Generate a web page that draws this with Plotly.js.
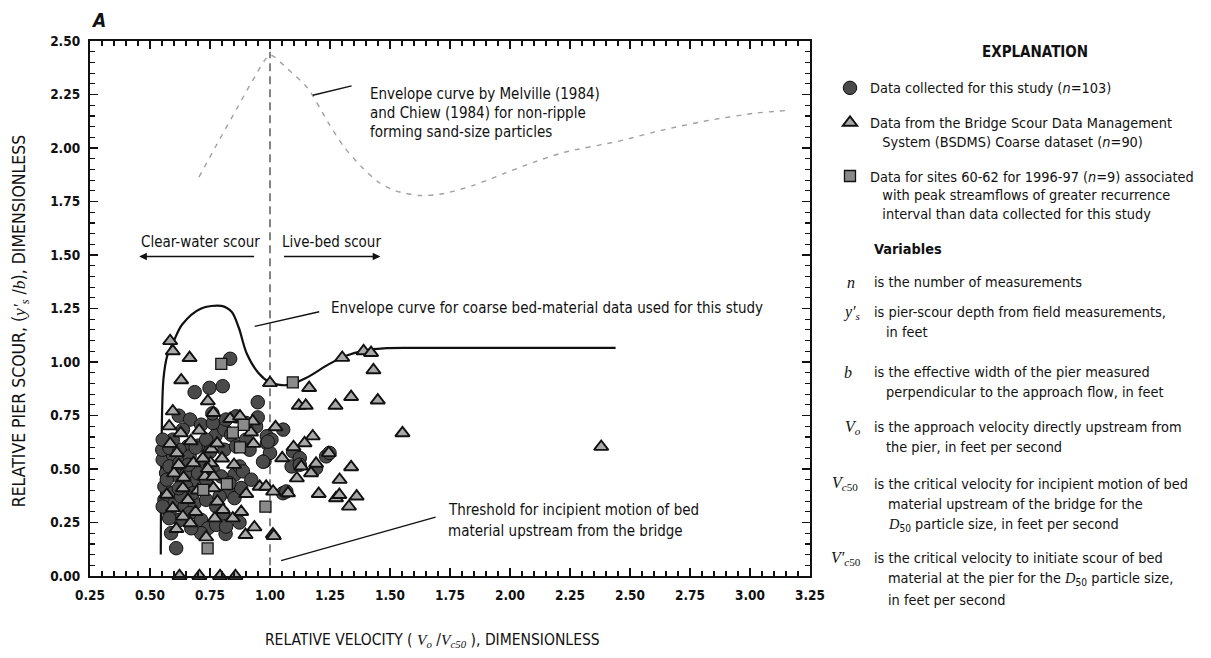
<!DOCTYPE html>
<html>
<head>
<meta charset="utf-8">
<script src="https://cdn.plot.ly/plotly-3.0.1.min.js"></script>
<style>html,body{margin:0;padding:0;background:#fff;}#chart{width:1211px;height:658px;}</style>
</head>
<body>
<div id="chart"></div>
<script>
// ---------------- DATA ----------------
const xTickVals = [0.25,0.50,0.75,1.00,1.25,1.50,1.75,2.00,2.25,2.50,2.75,3.00,3.25];
const yTickVals = [0.00,0.25,0.50,0.75,1.00,1.25,1.50,1.75,2.00,2.25,2.50];

// Data collected for this study (n=103)
const studyX = [0.834,0.686,0.748,0.803,0.949,0.620,0.667,0.713,0.773,0.810,0.838,0.942,0.987,0.987,0.658,0.700,0.810,0.553,0.595,0.567,
  0.609,0.651,0.692,0.852,0.873,0.887,0.977,0.560,0.595,0.560,0.602,0.644,0.686,0.824,0.852,0.880,0.713,0.741,0.776,0.873,
  0.588,0.609,0.713,0.815,0.551,0.581,0.623,0.581,0.623,0.665,0.720,0.762,0.797,0.734,0.651,0.679,0.630,0.734,0.776,0.804,
  0.665,0.623,0.581,0.553,0.817,0.672,0.900,0.915,0.922,0.817,0.859,0.900,0.762,0.734,0.859,0.831,0.790,0.637,0.595,0.553,
  1.055,1.006,1.096,1.124,1.090,1.124,1.192,1.234,1.248,1.054,1.068,1.000,0.949,0.971,0.991,0.570,0.580,0.700,0.660,0.750,
  0.620,0.690,0.760];
const studyY = [1.015,0.859,0.879,0.887,0.812,0.749,0.731,0.707,0.656,0.684,0.660,0.699,0.653,0.621,0.606,0.609,0.590,0.543,0.567,0.481,
  0.473,0.473,0.442,0.473,0.512,0.489,0.536,0.418,0.387,0.356,0.340,0.325,0.340,0.395,0.364,0.411,0.262,0.223,0.239,0.250,
  0.200,0.130,0.200,0.197,0.590,0.598,0.590,0.512,0.528,0.559,0.528,0.497,0.465,0.450,0.418,0.387,0.372,0.356,0.325,0.294,
  0.294,0.262,0.294,0.325,0.231,0.223,0.637,0.590,0.450,0.731,0.746,0.715,0.715,0.637,0.606,0.434,0.372,0.684,0.637,0.637,
  0.684,0.637,0.582,0.551,0.512,0.520,0.504,0.559,0.575,0.387,0.395,0.575,0.741,0.534,0.628,0.450,0.270,0.480,0.520,0.580,
  0.410,0.600,0.760];

// BSDMS Coarse dataset (n=90)
const bsdmsX = [0.584,0.595,0.665,0.630,0.741,0.595,0.764,0.834,0.875,0.928,0.921,0.931,0.628,0.584,0.612,0.756,0.681,0.753,0.729,0.764,
  0.637,0.764,0.658,0.781,0.595,0.804,0.637,0.845,0.668,0.734,0.935,0.898,1.012,0.901,0.957,0.984,0.741,0.623,0.706,0.792,
  0.856,1.000,1.163,1.120,1.149,1.273,1.338,1.449,1.301,1.390,1.421,1.431,1.023,1.178,1.144,1.098,1.051,1.245,1.192,1.338,
  1.130,1.112,1.171,1.290,1.203,1.275,1.289,1.361,1.329,1.013,1.075,1.016,1.552,2.380,0.600,0.570,0.620,0.700,0.690,0.720,
  0.780,0.800,0.670,0.850,0.880,0.610,0.770,0.580,0.705,0.640];
const bsdmsY = [1.098,1.051,1.019,0.915,0.817,0.770,0.762,0.734,0.746,0.723,0.671,0.618,0.668,0.618,0.575,0.593,0.528,0.528,0.465,0.465,
  0.411,0.411,0.356,0.348,0.317,0.309,0.278,0.270,0.247,0.181,0.228,0.192,0.195,0.384,0.418,0.418,0.501,0.000,0.000,0.000,
  0.000,0.902,0.879,0.796,0.796,0.796,0.837,0.821,1.020,1.051,1.043,0.962,0.696,0.653,0.621,0.603,0.551,0.575,0.525,0.509,
  0.512,0.457,0.481,0.450,0.384,0.364,0.379,0.372,0.325,0.395,0.387,0.187,0.668,0.604,0.480,0.380,0.520,0.400,0.300,0.550,
  0.620,0.550,0.630,0.520,0.300,0.220,0.270,0.700,0.680,0.460];

// Sites 60-62 for 1996-97 (n=9)
const sitesX = [0.797,1.095,0.890,0.845,0.875,0.820,0.722,0.981,0.740];
const sitesY = [0.991,0.905,0.706,0.670,0.601,0.430,0.402,0.324,0.129];

// Envelope curve for coarse bed-material data (this study)
const envX = [0.545,0.548,0.556,0.572,0.596,0.634,0.711,0.797,0.840,0.870,0.903,0.951,0.999,1.040,1.076,1.150,1.246,1.320,1.397,1.473,1.600,2.440];
const envY = [0.100,0.600,0.920,1.030,1.090,1.175,1.249,1.262,1.235,1.160,1.040,0.950,0.905,0.893,0.893,0.925,0.990,1.030,1.055,1.064,1.066,1.066];

// Envelope curve by Melville (1984) and Chiew (1984)
const melX = [0.704,0.780,0.860,0.930,1.000,1.073,1.157,1.242,1.305,1.383,1.453,1.523,1.622,1.720,1.847,1.974,2.100,2.227,2.449,2.640,2.832,3.023,3.150];
const melY = [1.864,2.020,2.180,2.320,2.434,2.370,2.280,2.120,2.010,1.910,1.840,1.800,1.778,1.786,1.825,1.880,1.934,1.980,2.031,2.085,2.130,2.163,2.175];

// Threshold for incipient motion (relative velocity = 1)
const threshX = [1.00,1.00];
const threshY = [0.05,2.45];

// ---------------- STYLE / LAYOUT ----------------
const F = "'Liberation Sans Narrow','DejaVu Sans Condensed','Arial Narrow',sans-serif";
const SERIF = "Liberation Serif";
const W = 1211, H = 658;
const M = {l: 90, r: 401, t: 41, b: 82};
const px2x = p => (p - M.l) / (W - M.l - M.r);
const px2y = p => (H - M.b - p) / (H - M.t - M.b);
const FS = 14.4;
const NB = n => '\u00a0'.repeat(n);
const ZW = '\u200b';

const traces = [
  {x: threshX, y: threshY, mode: 'lines', showlegend: false, hoverinfo: 'skip',
   line: {color: '#666', width: 1.6, dash: '8px,5px'}},
  {x: melX, y: melY, mode: 'lines', showlegend: false, hoverinfo: 'skip',
   line: {color: '#a0a0a0', width: 1.4, dash: '5px,6px', shape: 'spline', smoothing: 0.7}},
  {x: envX, y: envY, mode: 'lines', showlegend: false, hoverinfo: 'skip',
   line: {color: '#111', width: 2.2, shape: 'spline', smoothing: 0.9}},
  {x: studyX, y: studyY, mode: 'markers', legendgroup: 'g1', name: 'Data collected for this study (<i>n</i>=103)',
   cliponaxis: false,
   marker: {symbol: 'circle', size: 13.5, color: '#4a4a4a', line: {color: '#111', width: 1}}},
  {x: bsdmsX, y: bsdmsY, mode: 'markers', legendgroup: 'g2',
   name: 'Data from the Bridge Scour Data Management<br>' + NB(3) + 'System (BSDMS) Coarse dataset (<i>n</i>=90)',
   cliponaxis: false,
   marker: {symbol: 'triangle-up', size: 12.5, color: '#a8a8a8', line: {color: '#111', width: 1.9}}},
  {x: sitesX, y: sitesY, mode: 'markers', legendgroup: 'g3',
   name: 'Data for sites 60-62 for 1996-97 (<i>n</i>=9) associated<br>' + NB(3) + 'with peak streamflows of greater recurrence<br>' + NB(3) + 'interval than data collected for this study',
   cliponaxis: false,
   marker: {symbol: 'square', size: 11, color: '#8a8a8a', line: {color: '#111', width: 1.3}}}
];

const ann = [];
function txt(x, y, text, opts) {
  ann.push(Object.assign({xref: 'paper', yref: 'paper', x: px2x(x), y: px2y(y), text: text,
    showarrow: false, xanchor: 'left', yanchor: 'middle', align: 'left',
    font: {family: F, size: FS, color: '#111'}}, opts || {}));
}
const big = {family: F, size: 15, color: '#111'};
// panel letter
txt(89, 20, '<b><i>A</i></b>', {font: {family: F, size: 19, color: '#111'}});
// in-plot annotations
txt(368, 94, 'Envelope curve by Melville (1984)', {font: big});
txt(368, 113, 'and Chiew (1984) for non-ripple', {font: big});
txt(368, 132, 'forming sand-size particles', {font: big});
txt(200, 242, 'Clear-water scour', {xanchor: 'center', font: big});
txt(331, 242, 'Live-bed scour', {xanchor: 'center', font: big});
txt(329, 308, 'Envelope curve for coarse bed-material data used for this study', {font: big});
txt(446, 510, 'Threshold for incipient motion of bed', {font: big});
txt(446, 531, 'material upstream from the bridge', {font: big});

// arrows & leader lines (data coordinates)
function arrow(x0, y0, x1, y1, head) {
  ann.push({xref: 'x', yref: 'y', axref: 'x', ayref: 'y', x: x1, y: y1, ax: x0, ay: y0,
    text: '', showarrow: true, arrowhead: head, arrowsize: 1.1, arrowwidth: 1.4, arrowcolor: '#111', standoff: 0, startstandoff: 0});
}
arrow(0.94, 1.493, 0.455, 1.493, 2);
arrow(1.052, 1.493, 1.46, 1.493, 2);
arrow(1.172, 2.245, 1.34, 2.29, 0);
arrow(0.93, 1.165, 1.205, 1.235, 0);
arrow(1.04, 0.07, 1.69, 0.275, 0);

// explanation header + variables section
const SYM = s => "<span style='font-family:" + SERIF + "'><i>" + s + "</i></span>";
const symFont = {family: SERIF, size: 16, color: '#111'};
txt(1035, 52, '<b>EXPLANATION</b>', {xanchor: 'center', font: {family: F, size: 15, color: '#111'}});
const TX = 872, TX2 = 884;
txt(TX, 249, '<b>Variables</b>', {});
txt(851, 282, SYM('n'), {xanchor: 'center', font: symFont});
txt(TX, 282, 'is the number of measurements', {});
txt(852, 312, SYM("y\u2032<sub>s</sub>"), {xanchor: 'center', font: symFont});
txt(TX, 312, 'is pier-scour depth from field measurements,', {});
txt(TX2, 332, 'in feet', {});
txt(848, 372, SYM('b'), {xanchor: 'center', font: symFont});
txt(TX, 372, 'is the effective width of the pier measured', {});
txt(TX2, 392, 'perpendicular to the approach flow, in feet', {});
txt(853, 427, SYM('V<sub>o</sub>'), {xanchor: 'center', font: symFont});
txt(TX, 427, 'is the approach velocity directly upstream from', {});
txt(TX2, 447, 'the pier, in feet per second', {});
txt(830, 484, SYM('V') + "<span style='font-family:" + SERIF + "'><sub><i>c</i>50</sub></span>", {font: symFont});
txt(TX, 484, 'is the critical velocity for incipient motion of bed', {});
txt(TX2 + 2, 504, 'material upstream of the bridge for the', {});
txt(TX2 + 2, 525, SYM('D') + '<sub>50</sub> particle size, in feet per second', {});
txt(829, 558, SYM("V\u2032") + "<span style='font-family:" + SERIF + "'><sub><i>c</i>50</sub></span>", {font: symFont});
txt(TX, 558, 'is the critical velocity to initiate scour of bed', {});
txt(TX2 + 2, 579, 'material at the pier for the ' + SYM('D') + '<sub>50</sub> particle size,', {});
txt(TX2 + 2, 600, 'in feet per second', {});

const axisCommon = {
  showline: true, linecolor: '#111', linewidth: 2.2, mirror: 'allticks',
  ticks: 'inside', ticklen: 8, tickwidth: 1.6, tickcolor: '#111',
  showgrid: false, zeroline: false, fixedrange: true,
  tickformat: '.2f',
  tickfont: {family: F, size: 13.5, color: '#111', weight: 'bold'},
  minor: {ticks: 'inside', ticklen: 5, tickwidth: 1.2, tickcolor: '#111', dtick: 0.05, showgrid: false}
};

const layout = {
  width: W, height: H,
  margin: M,
  paper_bgcolor: '#fff', plot_bgcolor: '#fff',
  font: {family: F, size: FS, color: '#111'},
  showlegend: true,
  xaxis: Object.assign({}, axisCommon, {
    range: [0.25, 3.25], tickmode: 'array', tickvals: xTickVals, ticklabelstandoff: 6,
    title: {text: 'RELATIVE VELOCITY ( ' + SYM('V<sub>o</sub>') + ' /' + SYM('V<sub>c50</sub>') + ' ), DIMENSIONLESS' + NB(8) + ZW,
            font: {family: F, size: 15.5, color: '#111'}, standoff: 32}
  }),
  yaxis: Object.assign({}, axisCommon, {
    range: [0, 2.5], tickmode: 'array', tickvals: yTickVals, ticklabelstandoff: 5,
    title: {text: 'RELATIVE PIER SCOUR, (' + SYM("y\u2032<sub>s</sub>") + ' /' + SYM('b') + '), DIMENSIONLESS' + NB(5) + ZW,
            font: {family: F, size: 17.5, color: '#111'}, standoff: 20}
  }),
  legend: {
    x: px2x(830), xanchor: 'left', y: px2y(72), yanchor: 'top',
    bgcolor: 'rgba(0,0,0,0)', borderwidth: 0, valign: 'top',
    traceorder: 'grouped', tracegroupgap: 13,
    font: {family: F, size: FS, color: '#111'},
    itemclick: false, itemdoubleclick: false
  },
  annotations: ann
};

Plotly.newPlot('chart', traces, layout, {staticPlot: true, displayModeBar: false});
</script>
</body>
</html>
